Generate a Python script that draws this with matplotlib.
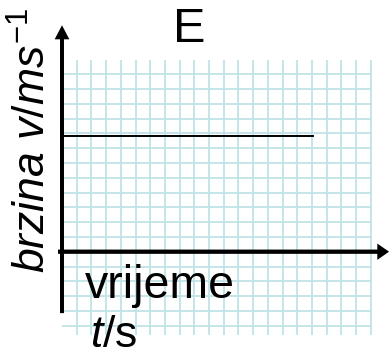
import numpy as np
import matplotlib
matplotlib.use("Agg")
import matplotlib.pyplot as plt

plt.rcParams["font.family"] = ["Liberation Sans", "DejaVu Sans"]
plt.rcParams["mathtext.fontset"] = "custom"
plt.rcParams["mathtext.rm"] = "Liberation Sans"
plt.rcParams["mathtext.it"] = "Liberation Sans:italic"

# Data (grid units): constant velocity over time
time = [0, 17.1]
velocity = [7.84, 7.84]

title = "E"
x_label_word = "vrijeme"
x_label_unit = r"$t$/s"
y_label = r"$brzina\ v/ms^{-1}$"

grid_color = "#bfe3e6"

fig = plt.figure(figsize=(3.89, 3.61), dpi=100)
ax = fig.add_axes([0, 0, 1, 1])
ax.set_xlim(-62 / 14.7, (389 - 62) / 14.7)
ax.set_ylim((251.7 - 361) / 14.8, 251.7 / 14.8)
ax.axis("off")

# graph paper grid
ax.vlines(np.arange(1, 22), -5.6, 12.95, color=grid_color, lw=1.3, zorder=1)
ax.hlines(np.arange(-5, 13), 0, 21.1, color=grid_color, lw=1.3, zorder=1)

# axes with arrows
ax.arrow(0, -4.15, 0, 19.45, width=0.27, head_width=1.0, head_length=0.95,
         length_includes_head=True, color="black", lw=0, zorder=3)
ax.arrow(-0.27, 0, 22.52, 0, width=0.29, head_width=1.1, head_length=0.8,
         length_includes_head=True, color="black", lw=0, zorder=3)

# the motion line
ax.plot(time, velocity, color="black", lw=1.4, zorder=2)

ax.text(8.64, 14.19, title, fontsize=35, ha="center", va="baseline")
ax.text(1.56, -3.11, x_label_word, fontsize=33.5, ha="left", va="baseline")
ax.text(1.9, -6.44, x_label_unit, fontsize=32, ha="left", va="baseline")
ax.text(-1.09, -1.44, y_label, fontsize=32, rotation=90, rotation_mode="anchor",
        ha="left", va="baseline")

fig.savefig("out.png", dpi=100)
